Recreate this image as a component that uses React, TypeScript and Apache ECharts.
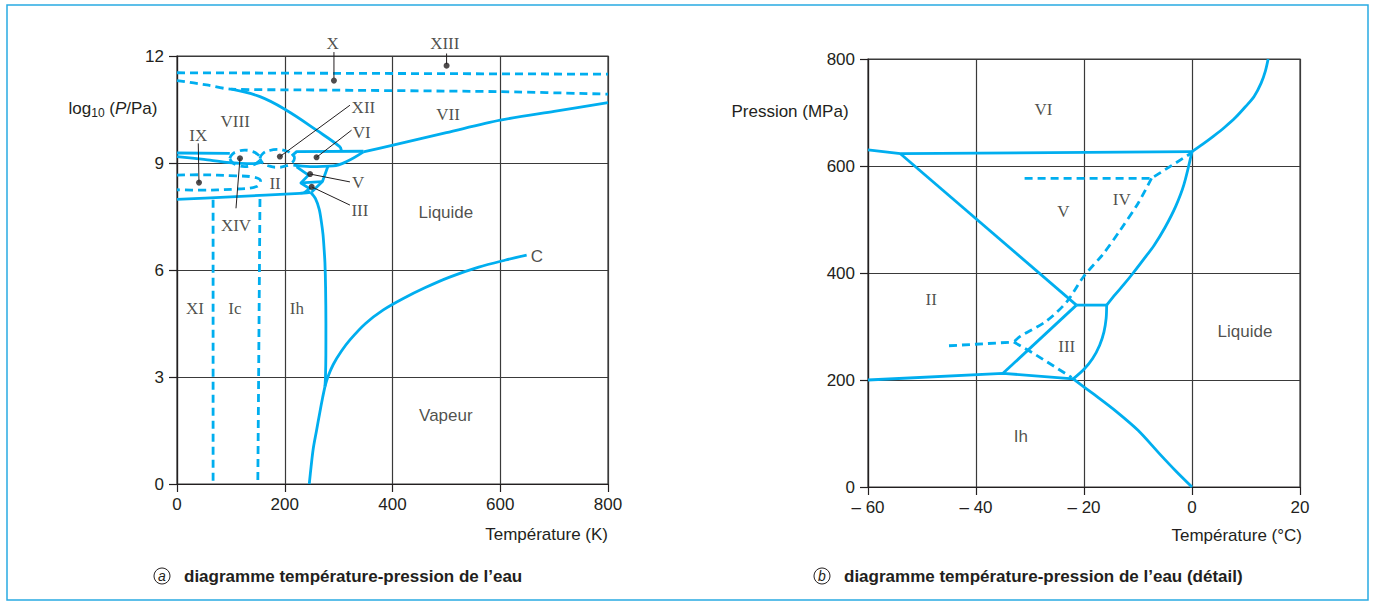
import React, { useEffect, useRef } from 'react';
import * as echarts from 'echarts';

type P = [number, number];

// ---------- (a) log10(P/Pa) versus temperature (K) ----------
const aMetaTop: P[] = [[0, 11.53], [800, 11.49]];
const aMetaSecond: P[] = [[0, 11.31], [55, 11.19], [101, 11.07], [228, 11.05], [599, 11.0], [800, 10.93]];
const aVIII_VII: P[] = [[101, 11.07], [154, 10.86], [203, 10.48], [259, 9.92], [302, 9.46], [305, 9.36]];
const aVI_top: P[] = [[213, 9.2], [222, 9.32], [346, 9.33]];
const aVII_liq: P[] = [[346, 9.31], [401, 9.5], [500, 9.85], [600, 10.2], [700, 10.45], [800, 10.69]];
const aVI_bottom: P[] = [[216, 8.94], [247, 8.9], [290, 8.92], [315, 9.04], [346, 9.31]];
const aV_left: P[] = [[222, 8.89], [244, 8.66], [230, 8.44], [246, 8.28], [236, 8.16]];
const aV_III: P[] = [[230, 8.44], [270, 8.48]];
const aV_right: P[] = [[280, 8.9], [270, 8.48], [250, 8.19]];
const aIh_II: P[] = [[0, 7.98], [100, 8.05], [228, 8.15], [248, 8.18]];
const aMelt: P[] = [[248, 8.18], [257, 8.0], [264, 7.7], [268, 7.35], [271, 7.0], [273, 6.6], [274.6, 6.2], [275.8, 5.5], [276.4, 4.5], [276.3, 3.6], [275.6, 3.0], [274.6, 2.73]];
const aSublim: P[] = [[274.6, 2.73], [270, 2.4], [265, 2.0], [259, 1.5], [253, 1.0], [249, 0.5], [245.5, 0]];
const aVapour: P[] = [[274.6, 2.73], [280, 3.0], [290, 3.35], [305, 3.72], [321, 4.04], [350, 4.5], [383, 4.88], [420, 5.2], [460, 5.5], [506, 5.8], [560, 6.08], [610, 6.28], [649, 6.42]];
const aXI_Ic: P[] = [[67, 7.97], [67, 0]];
const aIc_Ih: P[] = [[154, 7.99], [150, 0]];
const aIX: P[] = [[0, 8.66], [40, 8.67], [110, 8.64], [140, 8.61], [155, 8.5], [148, 8.34], [110, 8.27], [40, 8.24], [0, 8.25]];
const aXIV: P[] = [[98, 9.13], [103, 9.25], [114, 9.33], [126, 9.36], [138, 9.33], [149, 9.25], [154, 9.13], [149, 9.01], [138, 8.93], [126, 8.9], [114, 8.93], [103, 9.01], [98, 9.13]];
const aXII: P[] = [[154, 9.13], [159, 9.26], [172, 9.35], [186, 9.38], [200, 9.35], [213, 9.26], [218, 9.13], [213, 9.0], [200, 8.91], [186, 8.88], [172, 8.91], [159, 9.0], [154, 9.13]];
const aLeftTop: P[] = [[0, 9.28], [98, 9.27]];
const aLeftSecond: P[] = [[0, 9.18], [50, 9.1], [92, 9.02], [140, 8.98], [156, 9.02]];

const aRomanLabels: { name: string; value: P }[] = [
  { name: 'X', value: [289, 12.36] },
  { name: 'XIII', value: [497, 12.36] },
  { name: 'XII', value: [346, 10.56] },
  { name: 'VI', value: [343, 9.85] },
  { name: 'VIII', value: [108, 10.16] },
  { name: 'VII', value: [503, 10.35] },
  { name: 'IX', value: [39.5, 9.78] },
  { name: 'II', value: [182, 8.43] },
  { name: 'V', value: [336, 8.45] },
  { name: 'III', value: [339.5, 7.68] },
  { name: 'XIV', value: [109.5, 7.26] },
  { name: 'XI', value: [33.4, 4.93] },
  { name: 'Ic', value: [107.6, 4.93] },
  { name: 'Ih', value: [222.6, 4.93] },
];
const aSansLabels: { name: string; value: P }[] = [
  { name: 'Liquide', value: [499, 7.6] },
  { name: 'Vapeur', value: [499, 1.93] },
  { name: 'C', value: [668, 6.39] },
];
const aLeaders: P[][] = [
  [[291.3, 12.11], [291.3, 11.38]],
  [[500.4, 12.07], [500.4, 11.77]],
  [[321, 10.62], [191, 9.18]],
  [[324, 9.92], [259, 9.16]],
  [[321, 8.47], [247, 8.69]],
  [[321, 7.82], [250, 8.33]],
  [[39.5, 9.55], [40.8, 8.45]],
  [[116.9, 9.13], [109.5, 7.73]],
];
const aDots: P[] = [[291.3, 11.31], [500.4, 11.73], [191, 9.18], [259, 9.16], [247, 8.69], [250, 8.33], [40.8, 8.45], [116.9, 9.13]];

// ---------- (b) pressure (MPa) versus temperature (°C) ----------
const bVI_low: P[] = [[-60, 630], [-54, 623], [0, 627]];
const bVI_liq: P[] = [[0, 627], [2, 641], [4, 656], [6, 672], [8, 690], [10, 712], [11.5, 730], [12.8, 755], [13.6, 778], [14.1, 800]];
const bV_II: P[] = [[-54, 623], [-21.4, 340]];
const bIII_V: P[] = [[-21.4, 340], [-15.8, 340]];
const bV_liq: P[] = [[-15.8, 340], [-14.2, 360], [-12.5, 380], [-10.9, 400], [-9, 425], [-7, 452], [-5, 485], [-3, 525], [-1.5, 565], [0, 627]];
const bIII_liq: P[] = [[-15.8, 340], [-15.9, 315], [-16.3, 290], [-17.1, 265], [-18.4, 240], [-20, 220], [-22, 202]];
const bIh_liq: P[] = [[-22, 202], [-18, 172], [-14, 141], [-10, 106], [-6, 62], [-3, 30], [0, 0]];
const bIh_II: P[] = [[-60, 200], [-35, 212.5], [-22, 202]];
const bII_III: P[] = [[-35, 212.5], [-21.4, 340]];
const bIV_top: P[] = [[-31, 577], [-7.5, 577], [0, 625]];
const bIV_V: P[] = [[-7.5, 577], [-10, 530], [-13.3, 480], [-16.5, 435], [-20.1, 393], [-23.2, 346], [-27, 310], [-31.9, 281], [-33, 271]];
const bII_meta: P[] = [[-45, 264], [-33, 271]];
const bIII_meta: P[] = [[-33, 271], [-29.4, 250], [-22.3, 205]];

const bRomanLabels: { name: string; value: P }[] = [
  { name: 'VI', value: [-27.5, 705] },
  { name: 'V', value: [-23.8, 515] },
  { name: 'IV', value: [-13, 538] },
  { name: 'II', value: [-48.3, 351] },
  { name: 'III', value: [-23.2, 262] },
];
const bSansLabels: { name: string; value: P }[] = [
  { name: 'Liquide', value: [9.8, 290] },
  { name: 'Ih', value: [-31.7, 93.5] },
];

const BLUE = '#00aeef';
const INK = '#231f20';
const SANS = '"Liberation Sans", Arial, sans-serif';
const SERIF = '"Liberation Serif", "Times New Roman", serif';

function line(data: P[], g: number, dashed = false, smooth: number | boolean = false) {
  return {
    type: 'line', xAxisIndex: g, yAxisIndex: g, data, symbol: 'none', showSymbol: false,
    silent: true, clip: false, smooth,
    lineStyle: { color: BLUE, width: 2.8, type: dashed ? [8, 5] : 'solid', cap: 'butt', join: 'round' },
    z: 3,
  };
}

function labels(items: { name: string; value: P }[], g: number, font: string) {
  return {
    type: 'scatter', xAxisIndex: g, yAxisIndex: g, data: items, symbolSize: 0, clip: false, silent: true,
    label: { show: true, position: 'inside', formatter: '{b}', fontFamily: font, fontSize: 17, color: INK },
    z: 5,
  };
}

function axisPair(g: number, xmin: number, xmax: number, xint: number, ymin: number, ymax: number, yint: number, fmt?: (v: number) => string) {
  const common = {
    gridIndex: g, type: 'value',
    axisLine: { show: true, onZero: false, lineStyle: { color: INK, width: 1.2 } },
    axisTick: { show: true, length: 8, lineStyle: { color: INK, width: 1.2 } },
    splitLine: { show: true, lineStyle: { color: '#3a3a3a', width: 1.2 } },
    axisLabel: { fontFamily: SANS, fontSize: 17, color: INK, margin: 12 },
  };
  return {
    x: { ...common, min: xmin, max: xmax, interval: xint, axisLabel: { ...common.axisLabel, formatter: fmt } },
    y: { ...common, min: ymin, max: ymax, interval: yint, axisLabel: { ...common.axisLabel, margin: 13 } },
  };
}

export default function App() {
  const ref = useRef<HTMLDivElement>(null);
  useEffect(() => {
    if (!ref.current) return;
    const chart = echarts.init(ref.current, null, { renderer: 'svg' });
    const a = axisPair(0, 0, 800, 200, 0, 12, 3);
    const b = axisPair(1, -60, 20, 20, 0, 800, 200, (v: number) => (v < 0 ? '\u2013 ' + Math.abs(v) : String(v)));

    const series: any[] = [
      line(aMetaTop, 0, true), line(aMetaSecond, 0, true, 0.3),
      line(aVIII_VII, 0, false, 0.4), line(aVI_top, 0), line(aVII_liq, 0, false, 0.3),
      line(aVI_bottom, 0, false, 0.4), line(aV_left, 0), line(aV_III, 0), line(aV_right, 0),
      line(aIh_II, 0, false, 0.2), line(aMelt, 0, false, 0.3), line(aSublim, 0, false, 0.3),
      line(aVapour, 0, false, 0.3), line(aXI_Ic, 0, true), line(aIc_Ih, 0, true),
      line(aIX, 0, true, 0.4), line(aXIV, 0, true, 0.5), line(aXII, 0, true, 0.5),
      line(aLeftTop, 0), line(aLeftSecond, 0, false, 0.3),
      labels(aRomanLabels, 0, SERIF), labels(aSansLabels, 0, SANS),
      ...aLeaders.map((d) => ({
        type: 'line', xAxisIndex: 0, yAxisIndex: 0, data: d, symbol: 'none', silent: true, clip: false,
        lineStyle: { color: INK, width: 1 }, z: 4,
      })),
      { type: 'scatter', xAxisIndex: 0, yAxisIndex: 0, data: aDots, symbolSize: 6, clip: false, silent: true,
        itemStyle: { color: INK }, z: 6 },

      line(bVI_low, 1), line(bVI_liq, 1, false, 0.3), line(bV_II, 1), line(bIII_V, 1),
      line(bV_liq, 1, false, 0.3), line(bIII_liq, 1, false, 0.3), line(bIh_liq, 1, false, 0.3),
      line(bIh_II, 1), line(bII_III, 1), line(bIV_top, 1, true), line(bIV_V, 1, true, 0.3),
      line(bII_meta, 1, true), line(bIII_meta, 1, true),
      labels(bRomanLabels, 1, SERIF), labels(bSansLabels, 1, SANS),
    ];

    chart.setOption({
      animation: false,
      backgroundColor: '#ffffff',
      grid: [
        { left: 177, top: 56, width: 431, height: 428, show: true, borderColor: '#3a3a3a', borderWidth: 1.2 },
        { left: 868, top: 59, width: 432, height: 428, show: true, borderColor: '#3a3a3a', borderWidth: 1.2 },
      ],
      xAxis: [a.x, b.x],
      yAxis: [a.y, b.y],
      series,
      graphic: [
        { type: 'rect', shape: { x: 7, y: 5, width: 1361, height: 595 }, style: { fill: 'none', stroke: '#29abe2', lineWidth: 1.5 }, silent: true },
        {
          type: 'text', x: 113, y: 108,
          style: {
            text: '{a|log}{s|10}{a| (}{i|P}{a|/Pa)}', align: 'center', verticalAlign: 'middle',
            rich: {
              a: { fontFamily: SANS, fontSize: 17, fill: INK, color: INK },
              i: { fontFamily: SANS, fontSize: 17, fontStyle: 'italic', fill: INK, color: INK },
              s: { fontFamily: SANS, fontSize: 12, fill: INK, color: INK, padding: [9, 0, 0, 0] },
            },
          },
        },
        { type: 'text', x: 608, y: 534, style: { text: 'Température (K)', fontFamily: SANS, fontSize: 17, fill: INK, align: 'right', verticalAlign: 'middle' } },
        { type: 'text', x: 1302, y: 535, style: { text: 'Température (°C)', fontFamily: SANS, fontSize: 17, fill: INK, align: 'right', verticalAlign: 'middle' } },
        { type: 'text', x: 790, y: 111, style: { text: 'Pression (MPa)', fontFamily: SANS, fontSize: 17, fill: INK, align: 'center', verticalAlign: 'middle' } },
        { type: 'circle', shape: { cx: 162, cy: 576, r: 8 }, style: { fill: 'none', stroke: INK, lineWidth: 1 } },
        { type: 'text', x: 162, y: 576, style: { text: 'a', fontFamily: SANS, fontSize: 14, fontStyle: 'italic', fill: INK, align: 'center', verticalAlign: 'middle' } },
        { type: 'text', x: 184, y: 576, style: { text: 'diagramme température-pression de l\u2019eau', fontFamily: SANS, fontSize: 17, fontWeight: 'bold', fill: INK, align: 'left', verticalAlign: 'middle' } },
        { type: 'circle', shape: { cx: 822, cy: 576, r: 8 }, style: { fill: 'none', stroke: INK, lineWidth: 1 } },
        { type: 'text', x: 822, y: 576, style: { text: 'b', fontFamily: SANS, fontSize: 14, fontStyle: 'italic', fill: INK, align: 'center', verticalAlign: 'middle' } },
        { type: 'text', x: 844, y: 576, style: { text: 'diagramme température-pression de l\u2019eau (détail)', fontFamily: SANS, fontSize: 17, fontWeight: 'bold', fill: INK, align: 'left', verticalAlign: 'middle' } },
      ],
    });
    return () => chart.dispose();
  }, []);
  return <div ref={ref} style={{ position: 'fixed', left: 0, top: 0, width: 1376, height: 607 }} />;
}
